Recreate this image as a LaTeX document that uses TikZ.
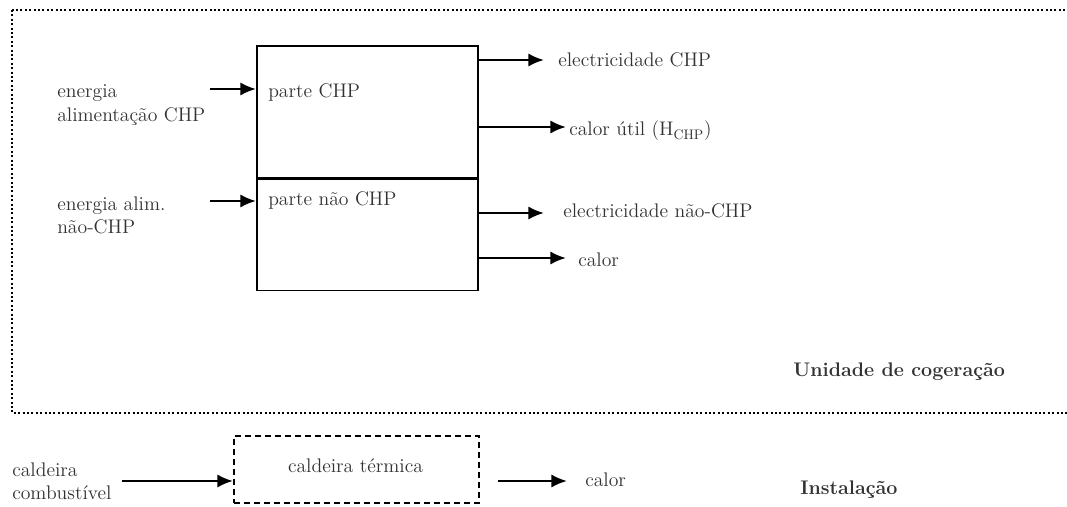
\documentclass[tikz,border=0pt]{standalone}
\usetikzlibrary{arrows.meta}
\definecolor{txtgray}{RGB}{50,50,50}
\begin{document}
\begin{tikzpicture}[x=0.25mm, y=-0.25mm,
  every node/.style={inner sep=0pt, text=txtgray, font=\fontsize{14}{16.5}\selectfont},
  arrow/.style={-{Latex[length=3.9mm,width=3.3mm]}, line width=1.6pt},
  box/.style={draw, line width=1.1pt, minimum width=55.25mm, anchor=north west},
  dbox/.style={draw, line width=1.2pt, dash pattern=on 1.5mm off 1mm, minimum width=61.25mm, minimum height=16.75mm, anchor=north west},
  lbl/.style={anchor=base west},
  inlbl/.style={anchor=west, align=left},
  title/.style={anchor=base west, font=\fontsize{14}{16.5}\selectfont\bfseries}
]
\useasboundingbox (0,0) rectangle (1067,507);
% unidade de cogeracao
\draw[line width=0.55mm, dash pattern=on 0.5mm off 0.6mm] (12,10) rectangle (1075,413);
\node[box, minimum height=33mm] (chp) at (256,45) {};
\node[box, minimum height=27.75mm] (nchp) at (chp.south west) {};
\node[lbl] (pchp) at (268,98) {parte CHP};
\node[lbl] (pnchp) at (268,206) {parte não CHP};
% entradas
\node[inlbl] (ein) at (57,105) {energia\\alimentação CHP};
\node[inlbl] (enin) at (57,215) {energia alim.\\não-CHP};
\coordinate (a1) at (210,89);
\coordinate (a2) at (210,201);
\draw[arrow] (a1) -- (chp.west |- a1);
\draw[arrow] (a2) -- (nchp.west |- a2);
% saidas
\node[lbl] (elchp) at (558,67) {electricidade CHP};
\node[lbl] (cutil) at (569,136) {calor útil (H\textsubscript{CHP})};
\node[lbl] (elnchp) at (563,218) {electricidade não-CHP};
\node[lbl] (cal) at (578,267) {calor};
\coordinate (b1) at (544,60);
\coordinate (b2) at (566,127);
\coordinate (b3) at (544,213);
\coordinate (b4) at (566,258);
\draw[arrow] (chp.east |- b1) -- (b1);
\draw[arrow] (chp.east |- b2) -- (b2);
\draw[arrow] (nchp.east |- b3) -- (b3);
\draw[arrow] (nchp.east |- b4) -- (b4);
\node[title] (ucog) at (793,377) {Unidade de cogeração};
% instalacao
\node[dbox] (cbox) at (233,435) {};
\node[anchor=base] (ct) at (355.5,473) {caldeira térmica};
\node[inlbl] (comb) at (12,481) {caldeira\\combustível};
\coordinate (c1) at (122,481);
\coordinate (c2) at (498,481);
\coordinate (c3) at (567,481);
\draw[arrow] (c1) -- (cbox.west |- c1);
\draw[arrow] (c2) -- (c3);
\node[lbl] (cal2) at (585,487) {calor};
\node[title] (inst) at (800,495) {Instalação};
\end{tikzpicture}
\end{document}
